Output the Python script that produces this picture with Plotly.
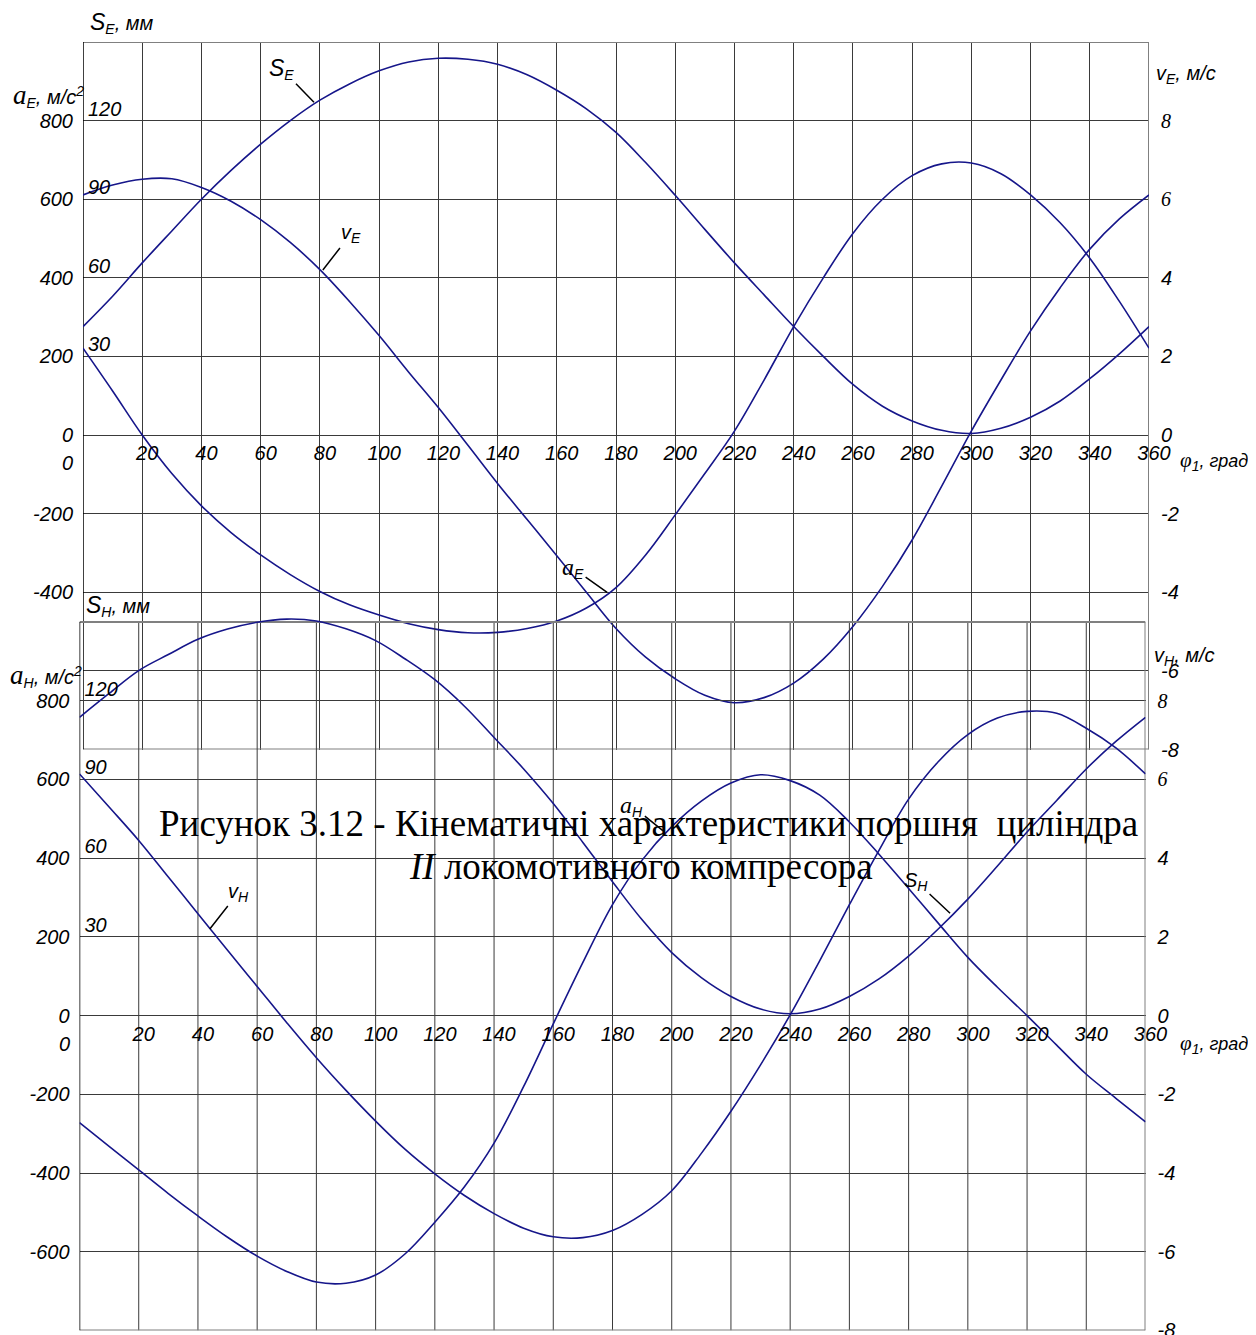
import plotly.graph_objects as go

# ---------------- data ----------------
phi = list(range(0, 361, 10))

# upper chart (cylinder E)
s_e = [41.4, 53.0, 65.7, 77.9, 90.0, 101.0, 111.0, 120.0, 127.8, 134.0, 139.0, 142.4, 143.8,
       143.4, 141.5, 137.5, 131.6, 124.5, 115.5, 104.0, 91.5, 78.5, 65.7, 53.5, 41.4, 30.0,
       19.3, 11.0, 5.4, 1.8, 0.6, 2.6, 6.8, 13.0, 21.5, 31.0, 41.4]
v_e = [6.11, 6.36, 6.51, 6.52, 6.30, 5.95, 5.48, 4.90, 4.21, 3.40, 2.53, 1.60, 0.70,
       -0.26, -1.23, -2.15, -3.07, -4.00, -4.92, -5.65, -6.20, -6.62, -6.81, -6.68, -6.31,
       -5.70, -4.87, -3.85, -2.67, -1.30, 0.10, 1.40, 2.65, 3.75, 4.73, 5.50, 6.11]
a_e = [221, 112, 0, -98, -180, -248, -305, -355, -398, -432, -458, -480, -495,
       -503, -502, -492, -473, -440, -388, -305, -203, -98, 10, 140, 276, 400,
       513, 600, 660, 690, 692, 665, 611, 540, 450, 340, 221]

# lower chart (cylinder H)
s_h = [113.7, 122.8, 131.5, 137.6, 143.4, 147.3, 149.9, 151.1, 150.4, 147.4, 142.9, 135.9, 128.0,
       117.9, 106.0, 94.0, 80.8, 66.0, 51.0, 36.5, 24.0, 14.5, 7.3, 2.5, 0.7, 2.5,
       7.3, 14.0, 22.7, 33.0, 44.4, 57.0, 70.0, 82.0, 94.0, 104.5, 113.7]
v_h = [6.14, 5.30, 4.45, 3.52, 2.59, 1.66, 0.74, -0.18, -1.07, -1.90, -2.68, -3.40, -4.02,
       -4.57, -5.03, -5.40, -5.62, -5.64, -5.46, -5.05, -4.45, -3.50, -2.43, -1.25, 0.02,
       1.40, 2.82, 4.20, 5.50, 6.45, 7.14, 7.56, 7.73, 7.68, 7.30, 6.80, 6.14]
a_h = [-272, -332, -392, -452, -509, -563, -611, -650, -677, -680, -659, -605, -525,
       -435, -324, -180, -21, 135, 282, 395, 480, 545, 591, 612, 597, 560,
       492, 410, 323, 235, 148, 72, 0, -75, -149, -210, -270]

# axis ticks / labels
x_ticks = list(range(20, 361, 20))
x_text = [str(v) for v in x_ticks]
a_ticks = [-800, -600, -400, -200, 0, 200, 400, 600, 800]
a_text_top = ['', '', '-400', '-200', '0', '200', '400', '600', '800']
a_text_bot = ['', '-600', '-400', '-200', '0', '200', '400', '600', '800']
s_ticks = [30, 60, 90, 120]
s_text = ['30', '60', '90', '120']
v_ticks = [-8, -6, -4, -2, 0, 2, 4, 6, 8]
v_text = ['-8', '-6', '-4', '-2', '0', '2', '4',
          "<span style='font-family:Liberation Serif'>6</span>",
          "<span style='font-family:Liberation Serif'>8</span>"]

# ---------------- styling ----------------
PAGE_W, PAGE_H = 1256, 1335
OFF = 8                      # default page margin around the figure
W, H = PAGE_W - OFF, PAGE_H - OFF
SANS = 'Liberation Sans'
SERIF = 'Liberation Serif'
CURVE = '#16168a'
GRID = '#3a3a3a'
FRAME = '#808080'
TICKFONT = dict(family=SANS, size=20, color='black', style='italic')


def px(x):
    return (x - OFF) / W


def py(y):
    return 1 - (y - OFF) / H


A_LO, A_HI = -800, 1000
S_K = 0.15           # mm per a-unit on the shared scale
V_K = 0.01           # m/s per a-unit on the shared scale

# upper panel: exact frame; lower panel: a little headroom so S_H peak is not clipped
top_x = [px(83), px(1149)]
top_y = [py(749.5), py(42)]
top_hi = A_HI
bot_x = [px(79.5), px(1145.5)]
bot_unit = (1330.5 - 622) / (A_HI - A_LO)
bot_hi = 1015
bot_y = [py(1330.5), py(622 - (bot_hi - A_HI) * bot_unit)]


def zero_pos(dom, hi):
    return dom[0] + (0 - A_LO) / (hi - A_LO) * (dom[1] - dom[0])


fig = go.Figure()
line = dict(color=CURVE, width=1.6, shape='spline', smoothing=1.0)
for y, ax in [(s_e, 'y2'), (v_e, 'y3'), (a_e, 'y')]:
    fig.add_trace(go.Scatter(x=phi, y=y, xaxis='x', yaxis=ax, mode='lines', line=line,
                             showlegend=False, hoverinfo='skip'))
for y, ax in [(s_h, 'y5'), (v_h, 'y6'), (a_h, 'y4')]:
    fig.add_trace(go.Scatter(x=phi, y=y, xaxis='x2', yaxis=ax, mode='lines', line=line,
                             showlegend=False, hoverinfo='skip'))


def xaxis_cfg(dom, ydom, hi, grid):
    return dict(domain=dom, range=[0, 360], anchor='free', position=zero_pos(ydom, hi),
                tickvals=x_ticks, ticktext=x_text, showgrid=grid, gridcolor=GRID,
                gridwidth=1, zeroline=False, showline=False, ticks='', tickfont=TICKFONT,
                ticklabelshift=5, ticklabelstandoff=4, automargin=False,
                ticklabeloverflow='allow')


def aaxis_cfg(dom, xa, text, hi):
    return dict(domain=dom, range=[A_LO, hi], anchor=xa, tickvals=a_ticks, ticktext=text,
                showgrid=True, gridcolor=GRID, gridwidth=1, zeroline=False, showline=False,
                ticks='', tickfont=TICKFONT, ticklabelstandoff=9, automargin=False,
                ticklabeloverflow='allow')


def saxis_cfg(over, xa, hi):
    return dict(overlaying=over, range=[A_LO * S_K, hi * S_K], anchor=xa, side='left',
                tickvals=s_ticks, ticktext=s_text, ticklabelposition='inside',
                showgrid=False, zeroline=False, showline=False, ticks='', tickfont=TICKFONT,
                ticklabelshift=-12, ticklabelstandoff=2, automargin=False,
                ticklabeloverflow='allow')


def vaxis_cfg(over, xa, hi):
    return dict(overlaying=over, range=[A_LO * V_K, hi * V_K], anchor=xa, side='right',
                tickvals=v_ticks, ticktext=v_text, showgrid=False, zeroline=False,
                showline=False, ticks='', tickfont=TICKFONT, ticklabelstandoff=11,
                automargin=False, ticklabeloverflow='allow')


fig.update_layout(
    template='none',
    width=W, height=H, margin=dict(l=0, r=0, t=0, b=0, autoexpand=False),
    paper_bgcolor='white', plot_bgcolor='rgba(0,0,0,0)',
    xaxis=xaxis_cfg(top_x, top_y, top_hi, True),
    yaxis=aaxis_cfg(top_y, 'x', a_text_top, top_hi),
    yaxis2=saxis_cfg('y', 'x', top_hi),
    yaxis3=vaxis_cfg('y', 'x', top_hi),
    xaxis2=xaxis_cfg(bot_x, bot_y, bot_hi, False),
    yaxis4=aaxis_cfg(bot_y, 'x2', a_text_bot, bot_hi),
    yaxis5=saxis_cfg('y4', 'x2', bot_hi),
    yaxis6=vaxis_cfg('y4', 'x2', bot_hi),
)

shapes = []
# vertical grid of the lower chart, limited to its frame (a from -800 to 1000)
for t in x_ticks[:-1]:
    shapes.append(dict(type='line', xref='x2', yref='y4', x0=t, x1=t, y0=A_LO, y1=A_HI,
                       line=dict(color=GRID, width=1), layer='below'))
# frame of each chart (drawn on the data scales: a from -800 to 1000, phi 0..360)
for xr, yr in [('x', 'y'), ('x2', 'y4')]:
    for yy in (A_LO, A_HI):
        shapes.append(dict(type='line', xref=xr, yref=yr, x0=0, x1=360, y0=yy, y1=yy,
                           line=dict(color=FRAME, width=2), layer='between'))
    shapes.append(dict(type='line', xref=xr, yref=yr, x0=360, x1=360, y0=A_LO, y1=A_HI,
                       line=dict(color=FRAME, width=2), layer='between'))
    shapes.append(dict(type='line', xref=xr, yref=yr, x0=0, x1=0, y0=A_LO, y1=A_HI,
                       line=dict(color='black', width=1.5), layer='between'))
fig.update_layout(shapes=shapes)

ann = []


def paper_text(x, y, text, size=20, family=SANS, xanchor='left'):
    ann.append(dict(x=px(x), y=py(y), xref='paper', yref='paper', text=text, showarrow=False,
                    xanchor=xanchor, yanchor='middle', font=dict(family=family, size=size,
                                                                 color='black')))


a_sym = "<span style='font-family:Liberation Serif;font-size:27px'><i>a</i></span>"
phi_sym = "<span style='font-family:Liberation Serif;font-size:21px'><i>φ</i></span>"
phi_title = phi_sym + "<i><sub>1</sub><span style='font-size:18px'>, град</span></i>"
big_s = "<span style='font-size:23px'>S</span>"

# axis titles (upper)
paper_text(88, 23, "<i>" + big_s + "<sub>E</sub>, мм</i>")
paper_text(11, 96, a_sym + "<i><sub>E</sub>, м/с<sup>2</sup></i>")
paper_text(1154, 74, "<i>v<sub>E</sub>, м/с</i>")
paper_text(1178, 461, phi_title)
# axis titles (lower)
paper_text(84, 606, "<i>" + big_s + "<sub>H</sub>, мм</i>")
paper_text(8, 675, a_sym + "<i><sub>H</sub>, м/с<sup>2</sup></i>")
paper_text(1152, 656, "<i>v<sub>H</sub>, м/с</i>")
paper_text(1178, 1044, phi_title)

# S-axis zero labels
for xr, yr in [('x', 'y2'), ('x2', 'y5')]:
    ann.append(dict(x=0, y=0, xref=xr, yref=yr, text='<i>0</i>', showarrow=False,
                    xanchor='right', yanchor='middle', xshift=-8, yshift=-28,
                    font=dict(family=SANS, size=20, color='black')))


# curve labels with pointer lines
def curve_label(x, y, xr, yr, text, ax, ay):
    ann.append(dict(x=x, y=y, xref=xr, yref=yr, text=text, showarrow=True, arrowhead=0,
                    arrowwidth=1.5, arrowcolor='black', ax=ax, ay=ay, standoff=0,
                    font=dict(family=SANS, size=20, color='black')))


a_lbl = "<span style='font-family:Liberation Serif;font-size:24px'><i>a</i></span>"
curve_label(78, 127, 'x', 'y2', "<i>" + big_s + "<sub>E</sub></i>", -32, -33)
curve_label(81, 4.2, 'x', 'y3', "<i>v<sub>E</sub></i>", 28, -36)
curve_label(177, -400, 'x', 'y', a_lbl + "<i><sub>E</sub></i>", -34, -24)
curve_label(44, 2.2, 'x2', 'y6', "<i>v<sub>H</sub></i>", 29, -37)
curve_label(197, 470, 'x2', 'y4', a_lbl + "<i><sub>H</sub></i>", -31, -25)
curve_label(294, 39, 'x2', 'y5', "<i>S<sub>H</sub></i>", -34, -32)

# caption
paper_text(648, 823, "Рисунок 3.12 - Кінематичні характеристики поршня&nbsp; циліндра",
           size=37, family=SERIF, xanchor='center')
paper_text(641, 866, "<i>II</i> локомотивного компресора", size=37, family=SERIF,
           xanchor='center')

fig.update_layout(annotations=ann)
fig.write_html("out.html")
